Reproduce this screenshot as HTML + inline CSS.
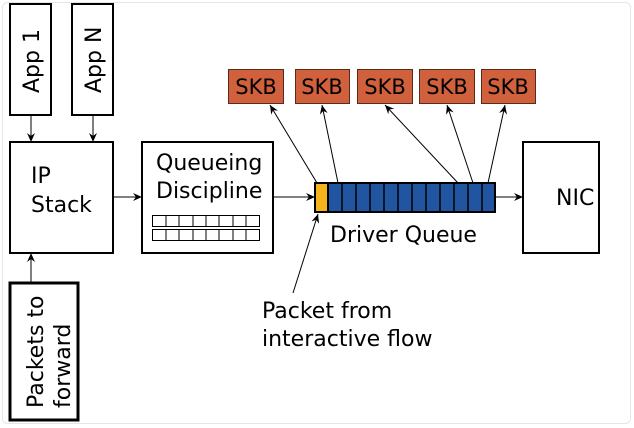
<!DOCTYPE html>
<html><head><style>
html,body{margin:0;padding:0;background:#fff;}
svg{display:block;font-family:"DejaVu Sans","Liberation Sans",sans-serif;}
</style></head><body>
<svg width="634" height="428" viewBox="0 0 634 428" xmlns="http://www.w3.org/2000/svg">
<defs>
<marker id="a" markerWidth="10" markerHeight="8" refX="9" refY="4" orient="auto" markerUnits="userSpaceOnUse">
<path d="M0,0 L9,4 L0,8 L3,4 z" fill="#000"/>
</marker>
</defs>
<rect x="2.5" y="2.5" width="628" height="421" rx="5" fill="#fff" stroke="#e6e6e6"/>
<g fill="#fff" stroke="#000" stroke-width="2">
<rect x="10" y="4" width="41" height="111"/>
<rect x="72" y="4" width="41" height="111"/>
<rect x="10" y="142" width="103" height="111"/>
<rect x="142" y="142" width="131" height="111"/>
<rect x="523" y="142" width="76" height="111"/>
<rect x="10" y="283" width="68" height="137" stroke-width="3"/>
</g>
<g fill="#fff" stroke="#000" stroke-width="1">
<rect x="152.5" y="215.5" width="107" height="11"/>
<rect x="152.5" y="229.5" width="107" height="11"/>
<path d="M166,215v11M179,215v11M193,215v11M206,215v11M219,215v11M233,215v11M246,215v11M166,229v11M179,229v11M193,229v11M206,229v11M219,229v11M233,229v11M246,229v11"/>
</g>
<g font-size="22" fill="#000">
<text transform="translate(39,93) rotate(-90)">App 1</text>
<text transform="translate(101,93) rotate(-90)">App N</text>
<text x="31" y="183">IP</text>
<text x="31" y="212">Stack</text>
<text x="156" y="170">Queueing</text>
<text x="156" y="198">Discipline</text>
<text x="556" y="205">NIC</text>
<text transform="translate(43,408) rotate(-90)">Packets to</text>
<text transform="translate(70,408) rotate(-90)">forward</text>
<text x="330" y="242">Driver Queue</text>
<text x="262" y="318">Packet from</text>
<text x="262" y="346">interactive flow</text>
</g>
<g fill="#d1603d" stroke="#5a2a1a" stroke-width="1">
<rect x="228.5" y="69.5" width="55" height="34"/>
<rect x="295.5" y="69.5" width="54" height="34"/>
<rect x="357.5" y="69.5" width="55" height="34"/>
<rect x="419.5" y="69.5" width="55" height="34"/>
<rect x="481.5" y="69.5" width="54" height="34"/>
</g>
<g font-size="21" fill="#000" text-anchor="middle">
<text x="256" y="94">SKB</text><text x="322" y="94">SKB</text><text x="385" y="94">SKB</text><text x="447" y="94">SKB</text><text x="508" y="94">SKB</text>
</g>
<rect x="315" y="183" width="180" height="29" fill="#2255a0" stroke="#000" stroke-width="2"/>
<rect x="315" y="183" width="13" height="29" fill="#f5b41c" stroke="#000" stroke-width="2"/>
<path d="M342,183v29M356,183v29M370,183v29M384,183v29M398,183v29M412,183v29M426,183v29M440,183v29M454,183v29M468,183v29M482,183v29" stroke="#000" stroke-width="1.5"/>
<g stroke="#000" stroke-width="1" fill="none" marker-end="url(#a)">
<line x1="31" y1="115" x2="31" y2="142"/>
<line x1="93" y1="115" x2="93" y2="142"/>
<line x1="113" y1="197" x2="142" y2="197"/>
<line x1="273" y1="197" x2="315" y2="197"/>
<line x1="495" y1="197" x2="523" y2="197"/>
<line x1="31" y1="283" x2="31" y2="253"/>
<line x1="293" y1="293" x2="318" y2="214"/>
<line x1="317" y1="183" x2="270" y2="105"/>
<line x1="338" y1="183" x2="322" y2="105"/>
<line x1="458" y1="183" x2="385" y2="105"/>
<line x1="473" y1="183" x2="447" y2="105"/>
<line x1="488" y1="183" x2="505" y2="105"/>
</g>
</svg>
</body></html>
